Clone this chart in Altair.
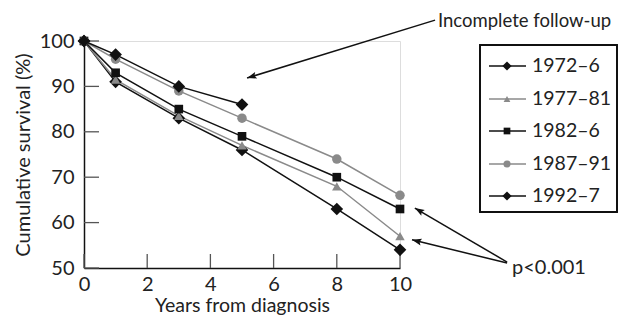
import altair as alt
import pandas as pd
import numpy as np

# ---- data ----
years = [0, 1, 3, 5, 8, 10]
series_names = ["1972–6", "1977–81", "1982–6", "1987–91", "1992–7"]
s1972 = [100, 91, 83, 76, 63, 54]
s1977 = [100, 91.5, 83.5, 77, 68, 57]
s1982 = [100, 93, 85, 79, 70, 63]
s1987 = [100, 96, 89, 83, 74, 66]
years_1992 = [0, 1, 3, 5]
s1992 = [100, 97, 90, 86]

x_ticks = [0, 2, 4, 6, 8, 10]
y_ticks = [50, 60, 70, 80, 90, 100]

colors = ["#111111", "#8a8a8a", "#111111", "#8a8a8a", "#111111"]
shapes = ["diamond", "triangle-up", "square", "circle", "diamond"]
sizes = [160, 90, 75, 90, 160]
legend_sizes = [85, 45, 45, 50, 85]

FONT = "Lato"
FS = 20
W, H = 316, 227

rows = []
for name, xs, ys, sz in zip(series_names,
                            [years, years, years, years, years_1992],
                            [s1972, s1977, s1982, s1987, s1992], sizes):
    for x, y in zip(xs, ys):
        rows.append({"series": name, "year": x, "surv": y, "size": sz})
df = pd.DataFrame(rows)

xs = alt.Scale(domain=[0, 10], nice=False, zero=False)
ys = alt.Scale(domain=[50, 100], nice=False, zero=False)
cscale = alt.Scale(domain=series_names, range=colors)
sscale = alt.Scale(domain=series_names, range=shapes)

base = alt.Chart(df)
lines = base.mark_line(strokeWidth=1.5).encode(
    x=alt.X("year:Q", scale=xs,
            axis=alt.Axis(values=x_ticks, ticks=False, grid=False, domainColor="#111",
                          domainWidth=1.5, labelFont=FONT, labelFontSize=FS,
                          labelColor="#222", labelPadding=6, title="Years from diagnosis",
                          titleFont=FONT, titleFontSize=19.5, titleFontWeight="normal",
                          titleColor="#222", titlePadding=2, labelFlush=False)),
    y=alt.Y("surv:Q", scale=ys,
            axis=alt.Axis(values=y_ticks, ticks=False, grid=False, domainColor="#111",
                          domainWidth=1.5, labelFont=FONT, labelFontSize=FS,
                          labelColor="#222", labelPadding=10, title="Cumulative survival (%)",
                          titleFont=FONT, titleFontSize=FS, titleFontWeight="normal",
                          titleColor="#222", titlePadding=6, labelFlush=False)),
    color=alt.Color("series:N", scale=cscale, legend=None),
    detail="series:N",
)
points = base.mark_point(filled=True, opacity=1).encode(
    x=alt.X("year:Q", scale=xs),
    y=alt.Y("surv:Q", scale=ys),
    color=alt.Color("series:N", scale=cscale, legend=None),
    shape=alt.Shape("series:N", scale=sscale, legend=None),
    size=alt.Size("size:Q", scale=None, legend=None),
)

# inward ticks
ytick_df = pd.DataFrame({"v": y_ticks})
xtick_df = pd.DataFrame({"v": x_ticks})
yticks = alt.Chart(ytick_df).mark_rule(color="#555", strokeWidth=1.3).encode(
    y=alt.Y("v:Q", scale=ys), x=alt.value(0), x2=alt.value(15))
xticks = alt.Chart(xtick_df).mark_rule(color="#555", strokeWidth=1.3).encode(
    x=alt.X("v:Q", scale=xs), y=alt.value(H), y2=alt.value(H - 14))

# annotation arrows (data coordinates)
arrow_x = [11.11, 13.39, 13.39]
arrow_y = [104.6, 51.3, 51.1]
arrow_x2 = [5.16, 10.47, 10.38]
arrow_y2 = [91.85, 63.2, 56.2]


def px(x):
    return np.array(x) * W / 10.0


def py(y):
    return (100 - np.array(y)) * H / 50.0


dx = px(arrow_x2) - px(arrow_x)
dy = py(arrow_y2) - py(arrow_y)
angles = (np.degrees(np.arctan2(dx, -dy)) + 360) % 360
arr_df = pd.DataFrame({"x": arrow_x, "y": arrow_y, "x2": arrow_x2, "y2": arrow_y2,
                       "ang": angles})
shafts = alt.Chart(arr_df).mark_rule(color="#111", strokeWidth=1.5).encode(
    x=alt.X("x:Q", scale=xs), y=alt.Y("y:Q", scale=ys),
    x2="x2:Q", y2="y2:Q")
heads = alt.Chart(arr_df).mark_point(
    shape="M0,0L-0.4,1.1L0,0.9L0.4,1.1Z", filled=True, color="#111", size=300, opacity=1
).encode(x=alt.X("x2:Q", scale=xs), y=alt.Y("y2:Q", scale=ys), angle=alt.Angle("ang:Q", scale=None))

ann_df = pd.DataFrame({"label": ["Incomplete follow-up", "p<0.001"],
                       "px": [354, 428], "py": [-20, 227],
                       "fs": [18.5, 20]})
ann = alt.Chart(ann_df).mark_text(font=FONT, align="left", baseline="middle",
                                  color="#222").encode(
    x=alt.X("px:Q", scale=None), y=alt.Y("py:Q", scale=None), text="label:N",
    size=alt.Size("fs:Q", scale=None, legend=None))

# legend (drawn manually)
leg_df = pd.DataFrame({"series": series_names, "ly": [25, 58, 90, 123, 155],
                       "lsize": legend_sizes})
box = alt.Chart(leg_df).mark_rect(fill=None, stroke="#111", strokeWidth=1.3).encode(
    x=alt.value(396), x2=alt.value(533), y=alt.value(4), y2=alt.value(171))
leg_lines = alt.Chart(leg_df).mark_rule(strokeWidth=1.5).encode(
    x=alt.value(405), x2=alt.value(442), y=alt.Y("ly:Q", scale=None),
    color=alt.Color("series:N", scale=cscale, legend=None))
leg_pts = alt.Chart(leg_df).mark_point(filled=True, opacity=1).encode(
    x=alt.value(423), y=alt.Y("ly:Q", scale=None),
    color=alt.Color("series:N", scale=cscale, legend=None),
    shape=alt.Shape("series:N", scale=sscale, legend=None),
    size=alt.Size("lsize:Q", scale=None, legend=None))
leg_txt = alt.Chart(leg_df).mark_text(font=FONT, fontSize=19.5, align="left",
                                      baseline="middle", color="#222").encode(
    x=alt.value(448), y=alt.Y("ly:Q", scale=None), text="series:N")

chart = alt.layer(
    yticks, xticks, lines, points, shafts, heads, ann, box, leg_lines, leg_pts, leg_txt
).properties(
    width=W, height=H,
    autosize=alt.AutoSizeParams(type="none"),
    padding={"left": 76, "top": 33, "right": 218, "bottom": 51},
).configure_view(stroke=None).configure(background="white")

chart.save("out.html", embed_options={"renderer": "svg", "actions": False})
